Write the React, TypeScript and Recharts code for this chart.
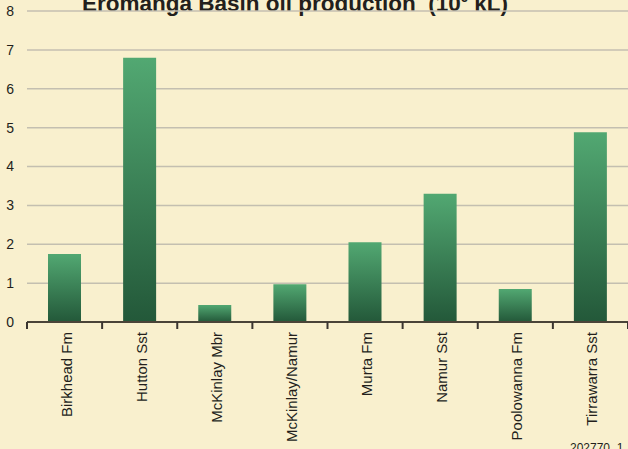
import { BarChart, Bar, XAxis, YAxis, CartesianGrid } from 'recharts';

const formations = [
  'Birkhead Fm',
  'Hutton Sst',
  'McKinlay Mbr',
  'McKinlay/Namur',
  'Murta Fm',
  'Namur Sst',
  'Poolowanna Fm',
  'Tirrawarra Sst',
];
const production = [1.75, 6.8, 0.44, 0.97, 2.05, 3.3, 0.85, 4.88];
const yTicks = [0, 1, 2, 3, 4, 5, 6, 7, 8];

const data = formations.map((name, i) => ({ name, value: production[i] }));

const FONT = '"Liberation Sans", Arial, sans-serif';
const BG = '#f9f0ce';

function FormationTick(props: any) {
  const { x, y, payload, index, visibleTicksCount } = props;
  const half = payload.offset ?? 0;
  const isLast = index === visibleTicksCount - 1;
  return (
    <g>
      <line x1={x - half} x2={x - half} y1={y - 8} y2={y - 1} stroke="#3a3530" strokeWidth={2} />
      {isLast && (
        <line x1={x + half} x2={x + half} y1={y - 8} y2={y - 1} stroke="#3a3530" strokeWidth={2} />
      )}
      <text
        x={x + 7}
        y={y + 2}
        transform={`rotate(-90, ${x + 7}, ${y + 2})`}
        textAnchor="end"
        fontSize={15}
        fontFamily={FONT}
        fill="#231f1c"
      >
        {payload.value}
      </text>
    </g>
  );
}

export default function App() {
  return (
    <div
      style={{
        position: 'absolute',
        left: 0,
        top: 0,
        width: 628,
        height: 449,
        background: BG,
        overflow: 'hidden',
      }}
    >
      <div
        style={{
          position: 'absolute',
          left: 82,
          top: -13,
          fontFamily: FONT,
          fontWeight: 'bold',
          fontSize: 22.5,
          lineHeight: '22px',
          color: '#231f1c',
          whiteSpace: 'pre',
        }}
      >
        Eromanga Basin oil production  (10<sup style={{ fontSize: 13 }}>6</sup> kL)
      </div>
      <BarChart
        width={628}
        height={449}
        data={data}
        margin={{ top: 11, right: 0, left: 0, bottom: 0 }}
        barCategoryGap={0}
      >
        <defs>
          <linearGradient id="barGrad" x1="0" y1="0" x2="0" y2="1">
            <stop offset="0%" stopColor="#52a872" />
            <stop offset="100%" stopColor="#235839" />
          </linearGradient>
        </defs>
        <CartesianGrid vertical={false} stroke="#c4bfb0" strokeWidth={1.5} />
        <XAxis
          dataKey="name"
          interval={0}
          height={127}
          tickLine={false}
          axisLine={{ stroke: '#4a4438', strokeWidth: 2 }}
          tick={<FormationTick />}
        />
        <YAxis
          width={27}
          domain={[0, 8]}
          ticks={yTicks}
          axisLine={false}
          tickLine={false}
          tickMargin={7}
          tick={{ fontSize: 14, fontFamily: FONT, fill: '#231f1c' }}
        />
        <Bar dataKey="value" fill="url(#barGrad)" barSize={33} isAnimationActive={false} />
      </BarChart>
      <div
        style={{
          position: 'absolute',
          left: 570,
          top: 441,
          fontFamily: FONT,
          fontSize: 12,
          color: '#231f1c',
        }}
      >
        202770_1
      </div>
    </div>
  );
}
